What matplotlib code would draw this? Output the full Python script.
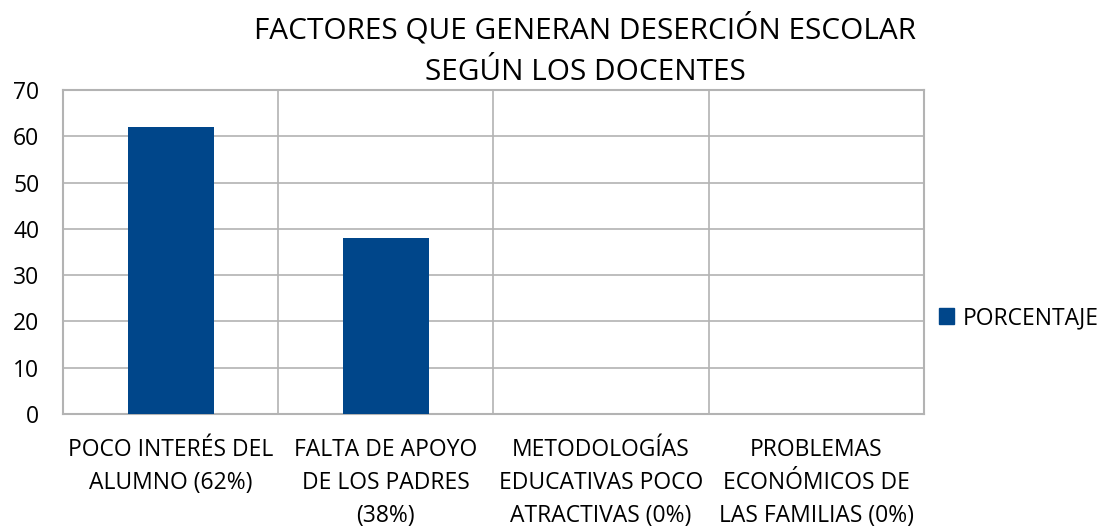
import matplotlib
matplotlib.use("Agg")
from matplotlib import pyplot as plt
from matplotlib.patches import Patch

# Data
categorias = ["POCO INTERÉS DEL\nALUMNO (62%)",
              "FALTA DE APOYO\nDE LOS PADRES\n(38%)",
              "METODOLOGÍAS\nEDUCATIVAS POCO\nATRACTIVAS (0%)",
              "PROBLEMAS\nECONÓMICOS DE\nLAS FAMILIAS (0%)"]
porcentaje = [62, 38, 0, 0]
yticks = [0, 10, 20, 30, 40, 50, 60, 70]

plt.rcParams['font.family'] = ['Open Sans', 'DejaVu Sans']

azul = '#00468a'
gris = '#b3b3b3'

fig = plt.figure(figsize=(11.04, 5.29), dpi=100)
ax = fig.add_axes([63/1104, 1 - 414/529, (924-63)/1104, (414-90)/529])

x = list(range(len(categorias)))
ax.bar(x, porcentaje, width=0.4, color=azul, zorder=3)

ax.set_xlim(-0.5, len(categorias) - 0.5)
ax.set_ylim(0, 70)
ax.set_yticks(yticks)
ax.set_xticks(x)
ax.set_xticklabels(categorias, fontsize=16.5, linespacing=1.5, va='top')
ax.set_xticks([i + 0.5 for i in x[:-1]], minor=True)
ax.tick_params(axis='both', length=0)
ax.tick_params(axis='x', pad=17)
ax.tick_params(axis='y', pad=17, labelsize=16.5)
ax.tick_params(axis='x', which='minor', length=0)

# gridlines and frame
ax.grid(axis='y', which='major', color=gris, linewidth=1.2, zorder=0)
ax.grid(axis='x', which='minor', color=gris, linewidth=1.2, zorder=0)
for s in ax.spines.values():
    s.set_color(gris)
    s.set_linewidth(1.5)

fig.text(585/1104, 1 - 50/529, "FACTORES QUE GENERAN DESERCIÓN ESCOLAR\nSEGÚN LOS DOCENTES",
         ha='center', va='center', fontsize=21.4, linespacing=1.55)

leg = fig.legend(handles=[Patch(color=azul, label='PORCENTAJE')],
                 loc='center left', bbox_to_anchor=(918/1104, 1 - 318/529),
                 frameon=False, fontsize=16.5, handlelength=0.65, handleheight=0.65,
                 handletextpad=0.4)

fig.savefig("out.png", dpi=100)
